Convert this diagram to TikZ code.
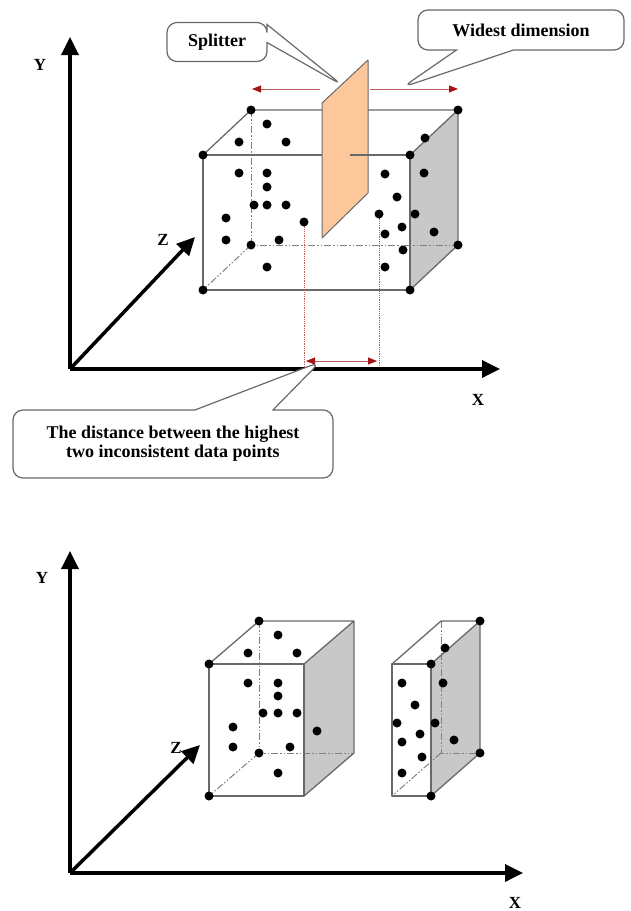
\documentclass[tikz,border=0pt]{standalone}
\usepackage{fontspec}
\setmainfont{Liberation Serif}
\usepackage{tikz}
\usetikzlibrary{arrows.meta,shapes.callouts}
\usepackage{xcolor}
\definecolor{splitorange}{RGB}{252,200,155}
\definecolor{edgegray}{RGB}{105,105,105}
\definecolor{facegray}{RGB}{200,200,200}
\definecolor{markred}{RGB}{165,20,20}

\begin{document}
\begin{tikzpicture}[x=1pt,y=-1pt,
    axisline/.style={line width=3.5pt,-{Triangle[length=18pt,width=17pt]}},
    boxedge/.style={edgegray,line width=1.3pt,line join=round},
    hidden/.style={edgegray!85,line width=1pt,dash pattern=on 7pt off 2pt on 1.5pt off 2pt on 1.5pt off 2pt},
    callbox/.style={rectangle callout,draw=edgegray,line width=1.2pt,fill=white,
      rounded corners=10pt,font=\fontsize{18}{19}\selectfont\bfseries,align=center,inner sep=2pt},
    axlabel/.style={font=\fontsize{17}{20}\selectfont\bfseries},
    redline/.style={markred!70,line width=0.8pt},
    redtip/.style={-{Triangle[length=9pt,width=7pt,color=markred]}},
  ]
  \useasboundingbox (0,0) rectangle (630,911);

  % Axes, upper plot
  \coordinate (o1) at (70,369);
  \coordinate (y1) at (70,37);
  \coordinate (x1) at (500,369);
  \coordinate (z1) at (195,237);
  \draw[axisline] (o1) -- (y1);
  \draw[axisline] (o1) -- (x1);
  \draw[axisline] (o1) -- (z1);
  \node[axlabel] (ylab1) at (40,65) {Y};
  \node[axlabel] (xlab1) at (478,400) {X};
  \node[axlabel] (zlab1) at (163,240) {Z};

  % Box before the split
  \fill[facegray] (410,155) -- (458,110) -- (458,245) -- (410,290) -- cycle;
  \draw[hidden] (251,110) -- (251,245) -- (458,245);
  \draw[hidden] (251,245) -- (203,290);
  \draw[boxedge] (203,155) rectangle (410,290);
  \draw[boxedge] (203,155) -- (251,110) -- (458,110) -- (410,155)
    (458,110) -- (458,245) -- (410,290);

  % Widest dimension arrows
  \coordinate (wl0) at (320,89);
  \coordinate (wl1) at (252,89);
  \coordinate (wr0) at (370,89);
  \coordinate (wr1) at (458,89);
  \draw[redline,redtip] (wl0) -- (wl1);
  \draw[redline,redtip] (wr0) -- (wr1);

  % Distance between the two points
  \draw[redline,densely dotted] (304,222) -- (304,367);
  \draw[redline,densely dotted] (379,214) -- (379,367);
  \coordinate (dl) at (306,361);
  \coordinate (dr) at (377,361);
  \draw[redline,{Triangle[length=9pt,width=7pt,color=markred]}-{Triangle[length=9pt,width=7pt,color=markred]}] (dl) -- (dr);

  % Splitter
  \draw[edgegray,line width=1pt,fill=splitorange,line join=round]
    (322,103) -- (368,60) -- (368,193) -- (322,238) -- cycle;
  \draw[boxedge] (350,155) -- (410,155);

  % Data points, upper box
  \foreach \x/\y in {203/155,410/155,203/290,410/290,251/110,458/110,458/245,251/245,
      267/124,239/142,286/142,239/173,267/173,267/187,254/205,267/205,286/205,
      226/218,304/222,226/240,279/240,267/267,
      425/138,385/174,424/173,397/197,379/214,415/214,402/227,434/232,385/234,
      403/250,385/267}
    \fill (\x,\y) circle (4.5);

  % Callouts
  \coordinate (splittip) at (342,85);
  \coordinate (widetip) at (403,87);
  \coordinate (disttip) at (320,362);
  \node[callbox,minimum width=100pt,minimum height=39pt,
    callout absolute pointer={(splittip)},callout pointer width=18pt]
    (splitter) at (217,42) {Splitter};
  \node[callbox,minimum width=206pt,minimum height=40pt,
    callout absolute pointer={(widetip)},callout pointer width=57pt]
    (widest) at (521,30) {Widest dimension};
  \node[callbox,minimum width=320pt,minimum height=68pt,
    callout absolute pointer={(disttip)},callout pointer width=78pt]
    (distance) at (173,444) {The distance between the highest\\two inconsistent data points};

  % Axes, lower plot
  \coordinate (o2) at (70,873);
  \coordinate (y2) at (70,551);
  \coordinate (x2) at (523,873);
  \coordinate (z2) at (200,745);
  \draw[axisline] (o2) -- (y2);
  \draw[axisline] (o2) -- (x2);
  \draw[axisline] (o2) -- (z2);
  \node[axlabel] (ylab2) at (42,578) {Y};
  \node[axlabel] (xlab2) at (515,903) {X};
  \node[axlabel] (zlab2) at (176,748) {Z};

  % Left box after the split
  \fill[facegray] (304,664) -- (354,621) -- (354,753) -- (304,796) -- cycle;
  \draw[hidden] (259,621) -- (259,753) -- (354,753);
  \draw[hidden] (259,753) -- (209,796);
  \draw[boxedge] (209,664) rectangle (304,796);
  \draw[boxedge] (209,664) -- (259,621) -- (354,621) -- (304,664)
    (354,621) -- (354,753) -- (304,796);

  % Right box after the split
  \fill[facegray] (431,664) -- (480,621) -- (480,753) -- (431,796) -- cycle;
  \draw[hidden] (441,621) -- (441,753) -- (480,753);
  \draw[hidden] (441,753) -- (392,796);
  \draw[boxedge] (392,664) rectangle (431,796);
  \draw[boxedge] (392,664) -- (441,621) -- (480,621) -- (431,664)
    (480,621) -- (480,753) -- (431,796);

  % Data points, lower boxes
  \foreach \x/\y in {209/664,209/796,259/621,259/753,
      278/635,248/653,297/653,248/683,278/683,278/696,263/713,278/713,297/713,
      233/727,317/731,233/747,290/747,278/773,
      431/664,431/796,480/621,480/753,
      445/648,402/683,443/683,415/705,397/723,435/723,420/734,402/742,454/740,
      422/757,402/773}
    \fill (\x,\y) circle (4.5);
\end{tikzpicture}
\end{document}
